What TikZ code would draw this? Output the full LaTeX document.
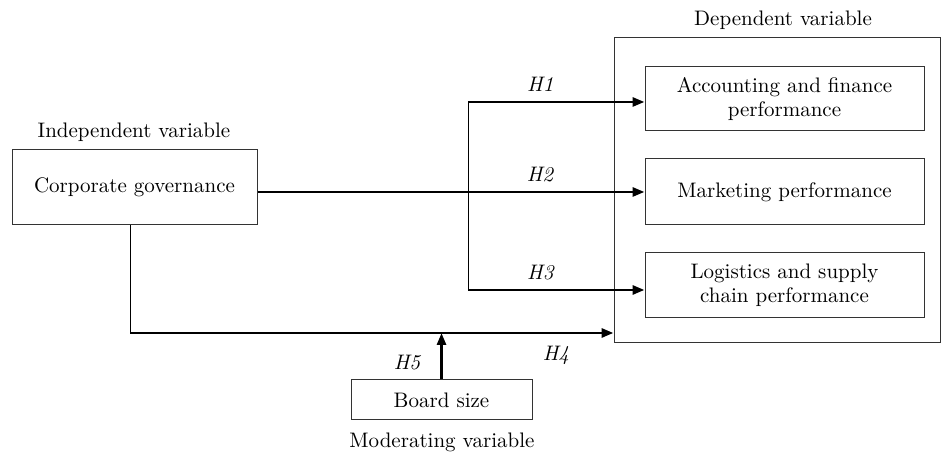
\documentclass[tikz,border=0pt]{standalone}
\usetikzlibrary{arrows.meta}

\begin{document}
\begin{tikzpicture}[x=0.5pt, y=-0.5pt,
        font=\fontsize{10.5}{12}\selectfont,
        kasten/.style={draw=black!80, line width=0.5pt, align=center, inner sep=0pt},
        pfeil/.style={line width=1.4pt, -{Triangle[length=6pt, width=4.5pt]}},
        duenn/.style={line width=0.5pt}]

        \useasboundingbox (0,0) rectangle (941,453);

        % Kaesten
        \node [kasten, minimum width=122.5pt, minimum height=37.5pt] (governance) at (134.5,187.5) {Corporate governance};
        \node [kasten, minimum width=163pt, minimum height=152.5pt] (abhaengig) at (777,190.5) {};
        \node [kasten, minimum width=139.5pt, minimum height=32pt] (konto) at (784.5,99) {Accounting and finance\\performance};
        \node [kasten, minimum width=139.5pt, minimum height=33pt] (markt) at (784.5,192) {Marketing performance};
        \node [kasten, minimum width=139.5pt, minimum height=32.5pt] (logistik) at (784.5,285.5) {Logistics and supply\\chain performance};
        \node [kasten, minimum width=90.5pt, minimum height=20pt] (board) at (441.5,400) {Board size};

        % Beschriftungen
        \node [] (unabhaengig) at (134,132) {Independent variable};
        \node [] (abhaengigtext) at (783,20) {Dependent variable};
        \node [] (moderierend) at (442,442) {Moderating variable};

        % Verzweigung
        \coordinate (h1) at (468,102);
        \coordinate (h3) at (468,290);
        \coordinate (ecke) at (130,333);

        \draw [duenn] (h1) -- (h3);
        \draw [pfeil] (h1) -- (h1 -| konto.west) node[pos=0.41, above=1pt] (tH1) {\itshape H1};
        \draw [pfeil] (governance.east |- markt.west) -- (markt.west) node[pos=0.73, above=1pt] (tH2) {\itshape H2};
        \draw [pfeil] (h3) -- (h3 -| logistik.west) node[pos=0.41, above=1pt] (tH3) {\itshape H3};

        \draw [duenn] (ecke |- governance.south) -- (ecke);
        \draw [pfeil] (ecke) -- (ecke -| abhaengig.west);
        \node [] (tH4) at (556,355) {\itshape H4};
        \draw [pfeil] (board.north) -- (board.north |- ecke);
        \node [] (tH5) at (407,363) {\itshape H5};

\end{tikzpicture}
\end{document}
